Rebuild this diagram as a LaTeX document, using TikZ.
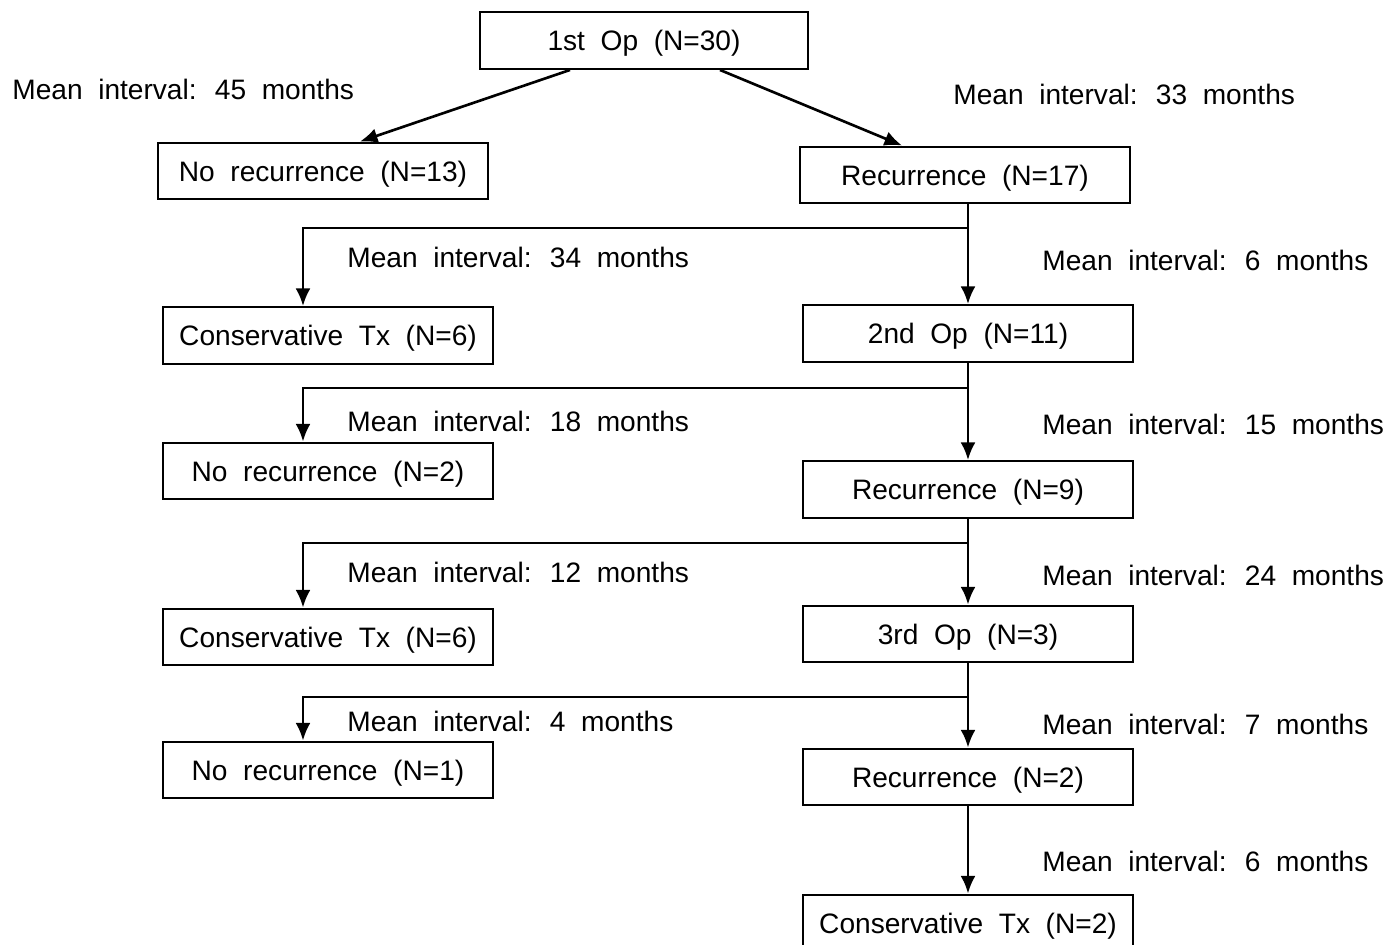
\documentclass[tikz,border=0pt]{standalone}
\usepackage{fontspec}
\setmainfont[WordSpace=2]{Liberation Sans}
\usetikzlibrary{arrows.meta}
\begin{document}
\begin{tikzpicture}[x=0.02cm,y=-0.02cm,
  font=\fontsize{16}{19}\selectfont,
  box/.style={draw,line width=1.4pt,minimum width=6.6cm,minimum height=1.13cm,inner sep=0pt,text height=15pt,text depth=3.5pt},
  lbl/.style={anchor=west,inner sep=0pt},
  conn/.style={line width=1.5pt,-{Latex[length=10pt,width=8.5pt]}}]
\useasboundingbox (0,0) rectangle (1392,945);
\clip (0,0) rectangle (1392,945);
% boxes
\node[box,minimum width=6.56cm] (op1) at (644,40.5) {1st Op (N=30)};
\node[box] (nr1) at (323,171) {No recurrence (N=13)};
\node[box] (rec1) at (965,175) {Recurrence (N=17)};
\node[box] (ct1) at (328,335.5) {Conservative Tx (N=6)};
\node[box] (op2) at (968,333.5) {2nd Op (N=11)};
\node[box] (nr2) at (328,471) {No recurrence (N=2)};
\node[box] (rec2) at (968,489.5) {Recurrence (N=9)};
\node[box] (ct2) at (328,637) {Conservative Tx (N=6)};
\node[box] (op3) at (968,634) {3rd Op (N=3)};
\node[box] (nr3) at (328,770) {No recurrence (N=1)};
\node[box] (rec3) at (968,777) {Recurrence (N=2)};
\node[box] (ct3) at (968,923) {Conservative Tx (N=2)};
% junctions
\coordinate (j1) at (968,228);
\coordinate (j2) at (968,388);
\coordinate (j3) at (968,543);
\coordinate (j4) at (968,697);
% connectors
\draw[conn] ([xshift=-1.48cm]op1.south) -- ([xshift=0.74cm]nr1.north);
\draw[conn] ([xshift=1.52cm]op1.south) -- ([xshift=-1.26cm]rec1.north);
\draw[conn] (rec1.south -| op2.north) -- (op2.north);
\draw[conn] (j1) -| ([xshift=-0.5cm]ct1.north);
\draw[conn] (op2.south) -- (rec2.north);
\draw[conn] (j2) -| ([xshift=-0.5cm]nr2.north);
\draw[conn] (rec2.south) -- (op3.north);
\draw[conn] (j3) -| ([xshift=-0.5cm]ct2.north);
\draw[conn] (op3.south) -- (rec3.north);
\draw[conn] (j4) -| ([xshift=-0.5cm]nr3.north);
\draw[conn] (rec3.south) -- (ct3.north);
% labels
\node[lbl] (l45) at (12,89) {Mean interval: 45 months};
\node[lbl] (l33) at (953,94) {Mean interval: 33 months};
\node[lbl] (l34) at (347,257) {Mean interval: 34 months};
\node[lbl] (l6a) at (1042,260) {Mean interval: 6 months};
\node[lbl] (l18) at (347,421) {Mean interval: 18 months};
\node[lbl] (l15) at (1042,424) {Mean interval: 15 months};
\node[lbl] (l12) at (347,572) {Mean interval: 12 months};
\node[lbl] (l24) at (1042,575) {Mean interval: 24 months};
\node[lbl] (l4) at (347,721) {Mean interval: 4 months};
\node[lbl] (l7) at (1042,724) {Mean interval: 7 months};
\node[lbl] (l6b) at (1042,861) {Mean interval: 6 months};
\end{tikzpicture}
\end{document}
